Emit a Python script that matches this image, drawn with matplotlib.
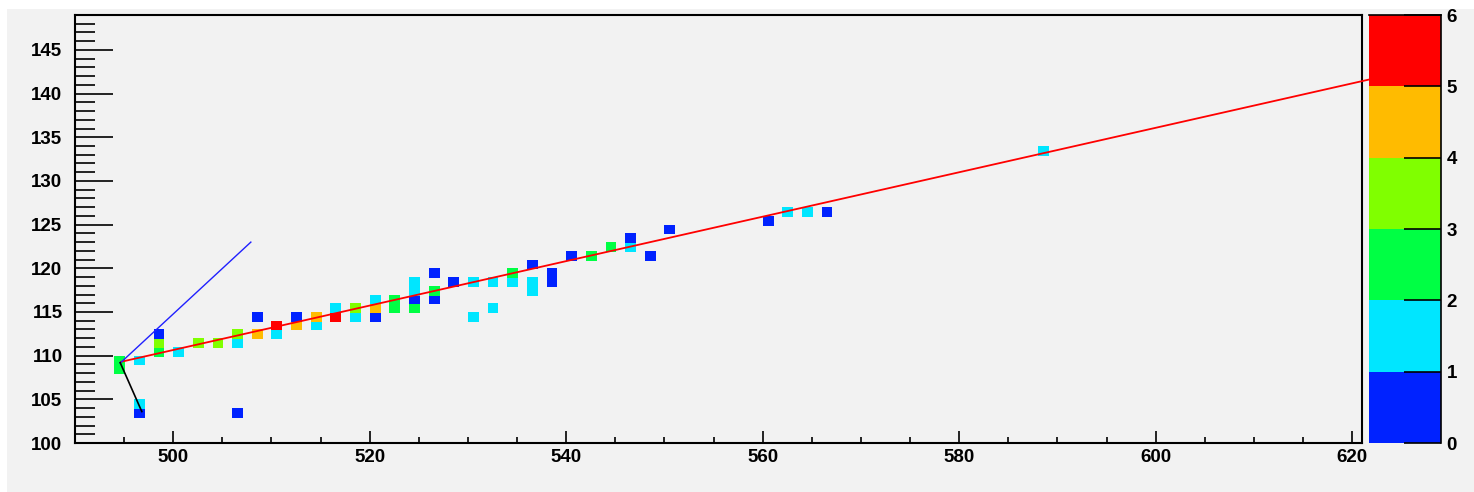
import numpy as np
import matplotlib
matplotlib.use('Agg')
import matplotlib.pyplot as plt
from matplotlib.colors import ListedColormap, BoundaryNorm
from matplotlib.patches import Rectangle

# histogram cells: lower edge of x bin, lower edge of y bin, colour band (0..5)
cell_x = [494, 494, 496, 496, 496, 498, 498, 498, 500, 502, 504, 506, 506, 506,
          508, 508, 510, 510, 512, 512, 514, 514, 516, 516, 518, 518, 520, 520, 520,
          522, 522, 524, 524, 524, 524, 526, 526, 526, 528, 530, 530, 532, 532,
          534, 534, 536, 536, 536, 538, 538, 540, 542, 544, 546, 546, 548, 550,
          560, 562, 564, 566, 588]
cell_y = [108, 109, 109, 104, 103, 112, 111, 110, 110, 111, 111, 112, 111, 103,
          114, 112, 113, 112, 114, 113, 114, 113, 115, 114, 115, 114, 116, 115, 114,
          116, 115, 118, 117, 116, 115, 119, 117, 116, 118, 118, 114, 118, 115,
          119, 118, 120, 118, 117, 119, 118, 121, 121, 122, 123, 122, 121, 124,
          125, 126, 126, 126, 133]
cell_band = [2, 2, 1, 1, 0, 0, 3, 2, 1, 3, 3, 3, 1, 0,
             0, 4, 5, 1, 0, 4, 4, 1, 1, 5, 3, 1, 1, 4, 0,
             2, 2, 1, 1, 0, 2, 0, 2, 0, 0, 1, 1, 1, 1,
             2, 1, 0, 1, 1, 0, 0, 0, 2, 2, 0, 1, 0, 0,
             0, 1, 1, 0, 1]

# fitted track (red) and two short segments from the vertex
red_x = [494.7, 626.0]
red_y = [109.3, 142.7]
blue_x = [494.6, 507.9]
blue_y = [109.15, 123.0]
black_x = [494.6, 496.8]
black_y = [109.2, 103.6]

palette = ['#0022ff', '#00e6ff', '#00ff44', '#80ff00', '#ffbb00', '#ff0000']
levels = [0, 1, 2, 3, 4, 5, 6]

xedges = np.arange(490, 622)
yedges = np.arange(100, 150)
z = np.full((len(yedges) - 1, len(xedges) - 1), np.nan)
for cx, cy, b in zip(cell_x, cell_y, cell_band):
    z[cy - 100, cx - 490] = b + 0.5

W, H = 1474, 492
fig = plt.figure(figsize=(W / 100, H / 100), dpi=100)
fig.patch.set_facecolor('white')
fig.patches.append(Rectangle((7 / W, 0), 1, 1 - 9 / H, transform=fig.transFigure,
                             facecolor='#f2f2f2', edgecolor='none', zorder=-10))

ax = fig.add_axes([75 / W, (H - 443) / H, (1362 - 75) / W, (443 - 15) / H])
ax.set_facecolor('#f2f2f2')
cmap = ListedColormap(palette)
norm = BoundaryNorm(levels, cmap.N)
ax.pcolormesh(xedges, yedges, np.ma.masked_invalid(z), cmap=cmap, norm=norm,
              edgecolors='face', linewidth=0.6)

ax.plot(red_x, red_y, color='red', lw=1.3, clip_on=False, zorder=3)
ax.plot(blue_x, blue_y, color='#2020ff', lw=1.0, zorder=3)
ax.plot(black_x, black_y, color='black', lw=1.2, zorder=3)

ax.set_xlim(490, 621)
ax.set_ylim(100, 149)
ax.set_xticks(np.arange(500, 621, 20))
ax.set_xticks(np.arange(495, 621, 5), minor=True)
ax.set_yticks(np.arange(100, 146, 5))
ax.set_yticks(np.arange(100, 149, 1), minor=True)
ax.tick_params(axis='both', which='both', direction='in', width=1.2, color='black')
ax.tick_params(axis='y', which='major', length=27, pad=9)
ax.tick_params(axis='y', which='minor', length=14.5)
ax.tick_params(axis='x', which='major', length=9, pad=4)
ax.tick_params(axis='x', which='minor', length=4.5)
for s in ax.spines.values():
    s.set_linewidth(1.5)
for lab in ax.get_xticklabels() + ax.get_yticklabels():
    lab.set_fontfamily('Liberation Sans')
    lab.set_fontweight('bold')
    lab.set_fontsize(13.5)

cax = fig.add_axes([1369 / W, (H - 443) / H, 72 / W, (443 - 15) / H])
for i, c in enumerate(palette):
    cax.axhspan(levels[i], levels[i + 1], color=c, lw=0)
cax.set_xlim(0, 1)
cax.set_ylim(0, 6)
cax.set_xticks([])
cax.yaxis.tick_right()
cax.set_yticks(levels)
cax.tick_params(axis='y', direction='in', length=27, width=1.2, pad=4)
for side in ['left', 'bottom']:
    cax.spines[side].set_visible(False)
for side in ['right', 'top']:
    cax.spines[side].set_linewidth(1.2)
for lab in cax.get_yticklabels():
    lab.set_fontfamily('Liberation Sans')
    lab.set_fontweight('bold')
    lab.set_fontsize(13.5)

fig.savefig('out.png', dpi=100)
